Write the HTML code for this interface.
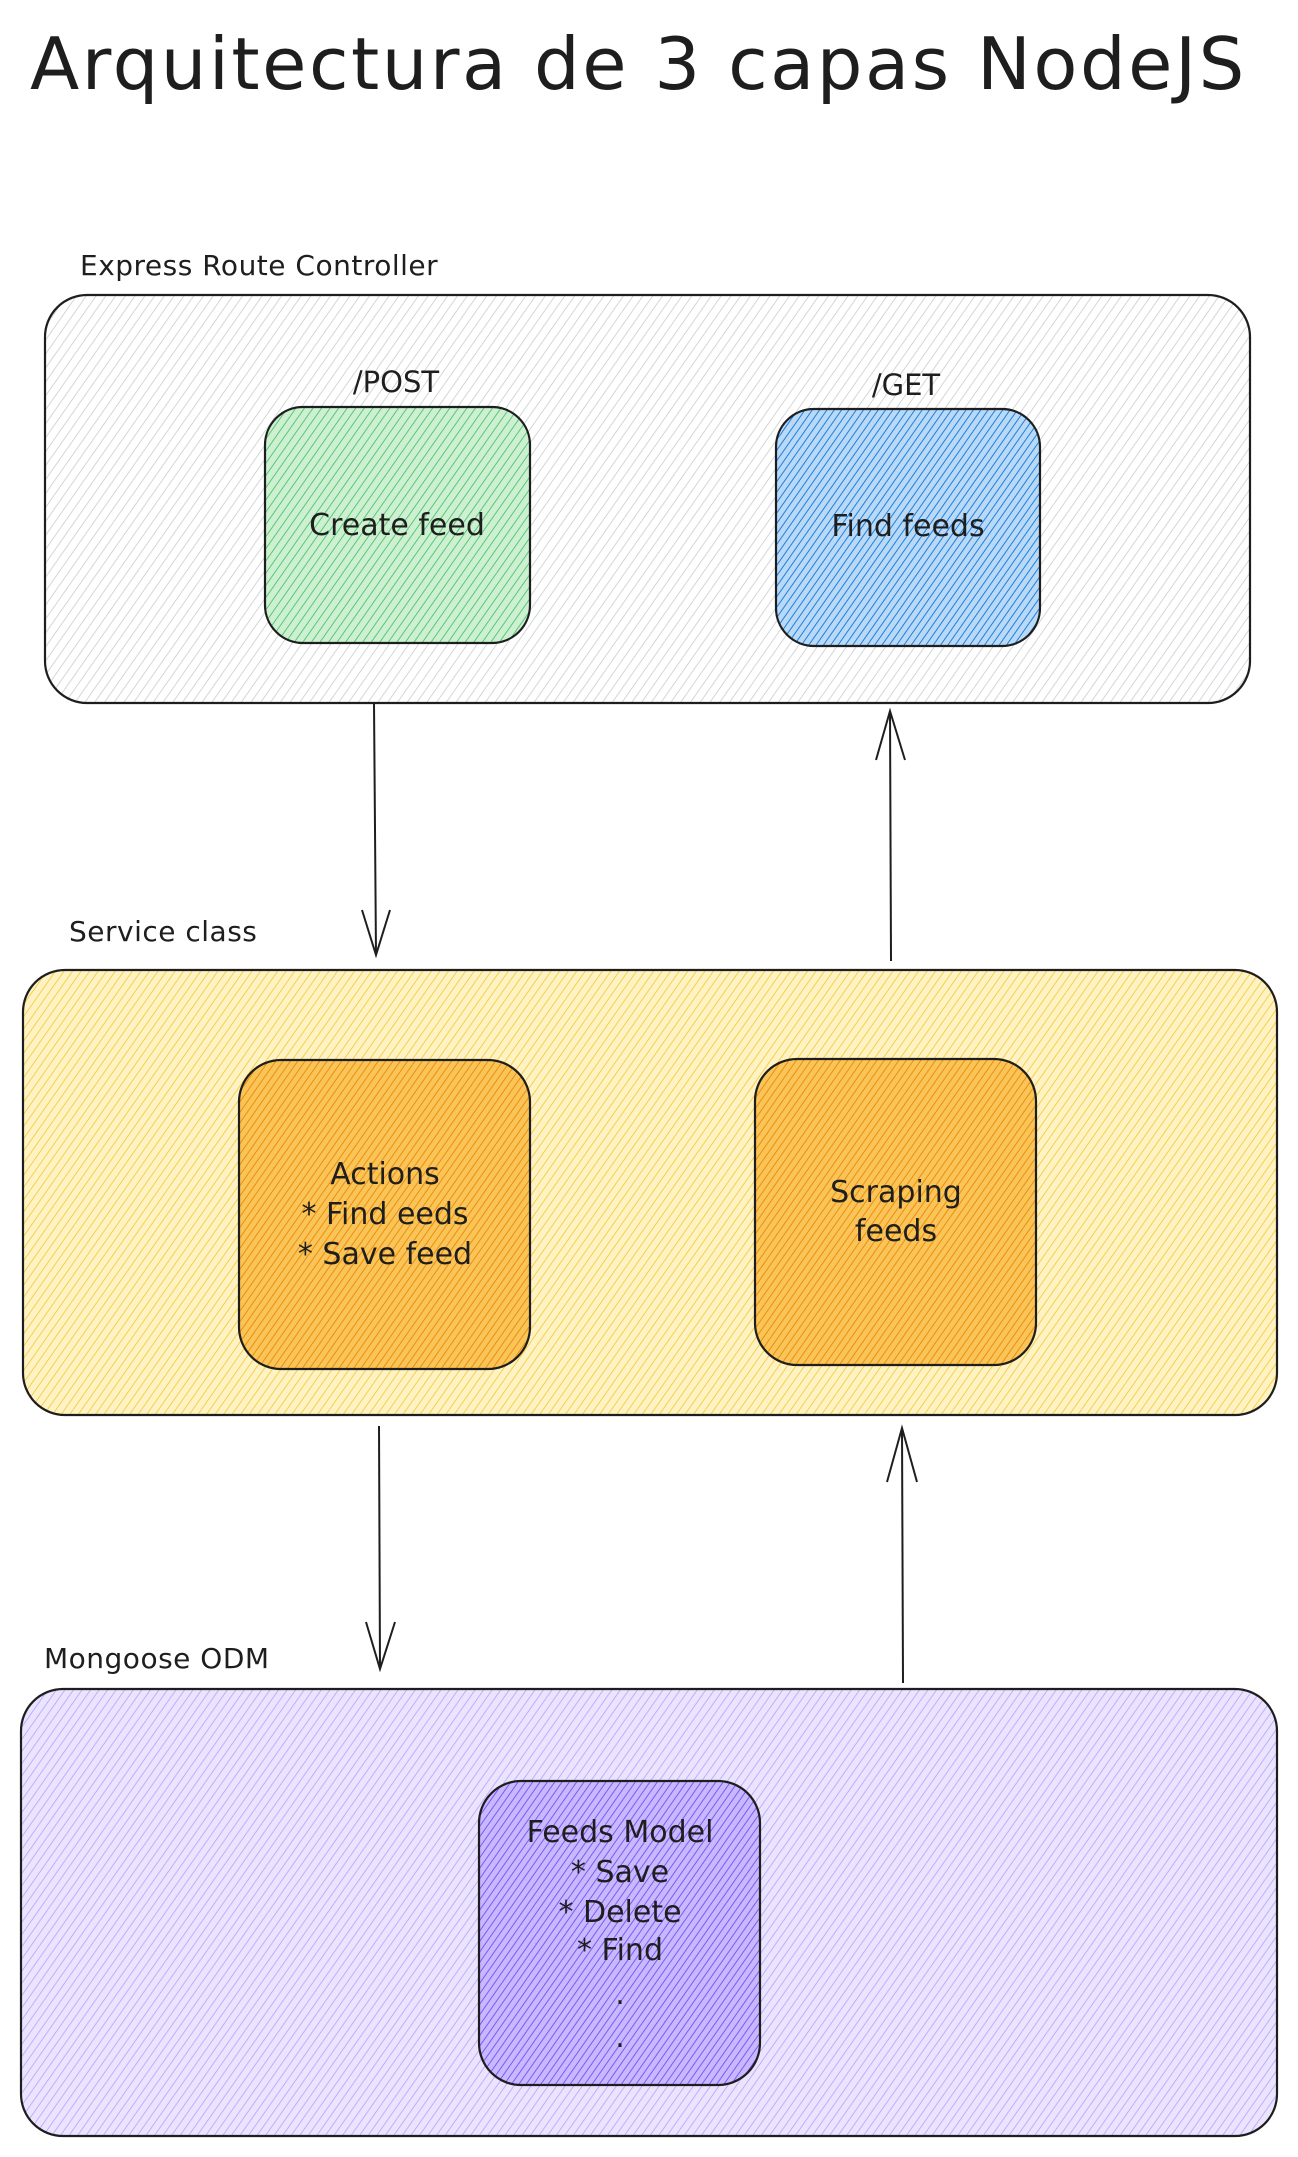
<!DOCTYPE html>
<html><head><meta charset="utf-8"><style>
html,body{margin:0;padding:0;background:#fff}
svg{display:block}
text{font-family:"DejaVu Sans","Liberation Sans",sans-serif;fill:#1e1e1e}
</style></head><body>
<svg width="1298" height="2157" viewBox="0 0 1298 2157" xmlns="http://www.w3.org/2000/svg">
<defs>
<pattern id="pg" width="8" height="8" patternUnits="userSpaceOnUse" patternTransform="rotate(35)"><line x1="0" y1="0" x2="0" y2="8" stroke="#c4c9ce" stroke-width="1.5"/></pattern>
<pattern id="pgr" width="7" height="7" patternUnits="userSpaceOnUse" patternTransform="rotate(35)"><rect width="7" height="7" fill="#cdf0d3"/><line x1="0" y1="0" x2="0" y2="7" stroke="#4cc463" stroke-width="1.8"/></pattern>
<pattern id="pb" width="6" height="6" patternUnits="userSpaceOnUse" patternTransform="rotate(35)"><rect width="6" height="6" fill="#b9d9f7"/><line x1="0" y1="0" x2="0" y2="6" stroke="#1c80e0" stroke-width="2"/></pattern>
<pattern id="py" width="7" height="7" patternUnits="userSpaceOnUse" patternTransform="rotate(35)"><rect width="7" height="7" fill="#fff3c4"/><line x1="0" y1="0" x2="0" y2="7" stroke="#f6c531" stroke-width="1.6"/></pattern>
<pattern id="po" width="6" height="6" patternUnits="userSpaceOnUse" patternTransform="rotate(35)"><rect width="6" height="6" fill="#f9c558"/><line x1="0" y1="0" x2="0" y2="6" stroke="#f08c0a" stroke-width="2"/></pattern>
<pattern id="pp" width="7" height="7" patternUnits="userSpaceOnUse" patternTransform="rotate(35)"><rect width="7" height="7" fill="#ebe4ff"/><line x1="0" y1="0" x2="0" y2="7" stroke="#b5a0fa" stroke-width="1.6"/></pattern>
<pattern id="ppd" width="6" height="6" patternUnits="userSpaceOnUse" patternTransform="rotate(35)"><rect width="6" height="6" fill="#c8b8ff"/><line x1="0" y1="0" x2="0" y2="6" stroke="#7a54f2" stroke-width="1.9"/></pattern>
</defs>

<text x="30" y="89" font-size="72" letter-spacing="2.5">Arquitectura de 3 capas NodeJS</text>

<text x="80" y="275" font-size="28" letter-spacing="0.5">Express Route Controller</text>
<rect x="45" y="295" width="1205" height="408" rx="42" fill="url(#pg)" stroke="#1e1e1e" stroke-width="2.2"/>
<text x="396" y="392" font-size="29" text-anchor="middle">/POST</text>
<rect x="265" y="407" width="265" height="236" rx="38" fill="url(#pgr)" stroke="#1e1e1e" stroke-width="2.2"/>
<text x="397" y="535" font-size="30" text-anchor="middle">Create feed</text>
<text x="906" y="395" font-size="29" text-anchor="middle">/GET</text>
<rect x="776" y="409" width="264" height="237" rx="38" fill="url(#pb)" stroke="#1e1e1e" stroke-width="2.2"/>
<text x="908" y="536" font-size="30" text-anchor="middle">Find feeds</text>

<g stroke="#1e1e1e" stroke-width="2" fill="none">
<line x1="374" y1="703" x2="376" y2="955"/><path d="M362 910 L376 955 L390 910"/>
<line x1="891" y1="961" x2="890" y2="711"/><path d="M876 760 L890 711 L905 760"/>
<line x1="379" y1="1426" x2="380" y2="1669"/><path d="M366 1622 L380 1669 L395 1622"/>
<line x1="903" y1="1683" x2="902" y2="1428"/><path d="M887 1482 L902 1428 L917 1482"/>
</g>

<text x="69" y="941" font-size="28" letter-spacing="0.5">Service class</text>
<rect x="23" y="970" width="1254" height="445" rx="42" fill="url(#py)" stroke="#1e1e1e" stroke-width="2.2"/>
<rect x="239" y="1060" width="291" height="309" rx="42" fill="url(#po)" stroke="#1e1e1e" stroke-width="2.2"/>
<text font-size="30" text-anchor="middle"><tspan x="385" y="1184">Actions</tspan><tspan x="385" y="1224">* Find eeds</tspan><tspan x="385" y="1264">* Save feed</tspan></text>
<rect x="755" y="1059" width="281" height="306" rx="42" fill="url(#po)" stroke="#1e1e1e" stroke-width="2.2"/>
<text font-size="30" text-anchor="middle"><tspan x="896" y="1202">Scraping</tspan><tspan x="896" y="1241">feeds</tspan></text>

<text x="44" y="1668" font-size="28" letter-spacing="0.5">Mongoose ODM</text>
<rect x="21" y="1689" width="1256" height="447" rx="42" fill="url(#pp)" stroke="#1e1e1e" stroke-width="2.2"/>
<rect x="479" y="1781" width="281" height="304" rx="42" fill="url(#ppd)" stroke="#1e1e1e" stroke-width="2.2"/>
<text font-size="30" text-anchor="middle"><tspan x="620" y="1842">Feeds Model</tspan><tspan x="620" y="1882">* Save</tspan><tspan x="620" y="1922">* Delete</tspan><tspan x="620" y="1960">* Find</tspan><tspan x="620" y="2004">.</tspan><tspan x="620" y="2047">.</tspan></text>
</svg>
</body></html>
